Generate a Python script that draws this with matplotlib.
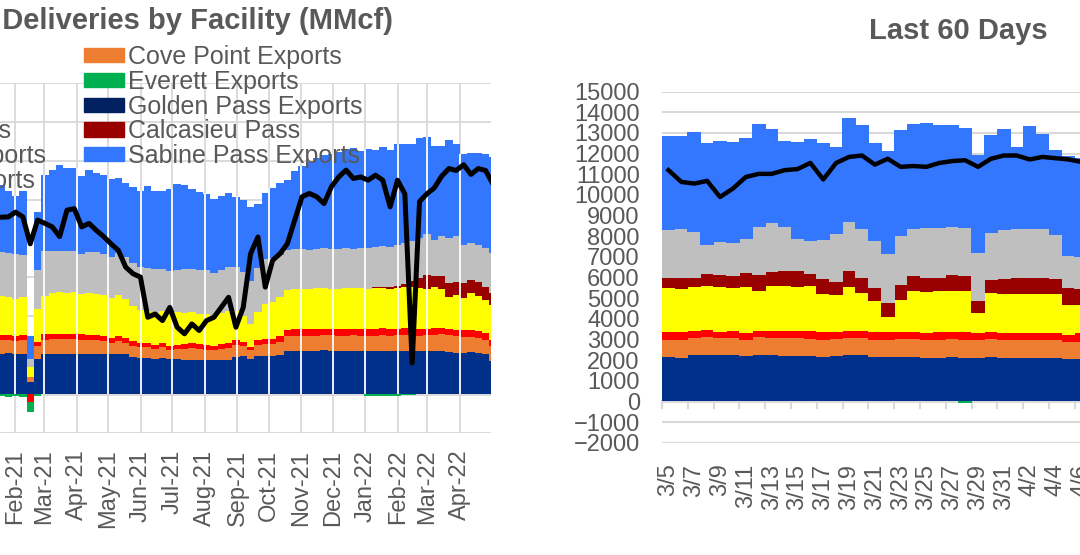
import numpy as np
import pandas as pd
import matplotlib
matplotlib.use("Agg")
import matplotlib.pyplot as plt
import matplotlib.dates as mdates
from matplotlib.patches import Patch
from matplotlib.lines import Line2D

plt.rcParams['font.family'] = ['Liberation Sans', 'DejaVu Sans']

TXT = '#595959'
GRID = '#d9d9d9'

C_FREEPORT = '#00308a'
C_COVE = '#ed7d31'
C_ELBA = '#ff0000'
C_CAMERON = '#ffff00'
C_CALCASIEU = '#990000'
C_CORPUS = '#bfbfbf'
C_SABINE = '#3377ff'
C_EVERETT = '#00b050'
C_GOLDEN = '#002060'
C_LAKE = '#7030a0'

# ---------------- left panel: weekly values, MMcf/d ----------------
week_start = pd.date_range('2021-01-01', periods=70, freq='7D')

freeport = [2100, 2120, 2080, 2100, 2050, 2080, 600, 1800,
            2080, 2080, 2080, 2080, 2080, 2080, 2080, 2080, 2080, 2050, 2080, 2050,
            1900, 1850, 1850, 1800, 1850, 1800, 1800, 1780, 1780, 1780, 1780, 1750, 1780, 1780,
            1900, 1950, 1800, 1950, 1950, 1950, 2000,
            2230, 2240, 2230, 2220, 2230, 2250, 2240, 2230, 2230, 2240, 2220, 2230, 2230, 2240,
            2230, 2230, 2240, 2230, 2230, 2230,
            2230, 2230, 2190, 2130, 2100, 2150, 2100, 2050, 1700]
cove_point = [700, 720, 700, 690, 700, 680, 300, 650,
              720, 740, 750, 740, 730, 720, 700, 700, 650, 600, 650, 600,
              600, 550, 550, 500, 550, 450, 500, 550, 600, 550, 500, 500, 550, 600,
              650, 550, 450, 600, 650, 650, 700,
              750, 770, 770, 770, 780, 780, 780, 780, 780, 780, 790, 780, 780, 790,
              780, 790, 790, 780, 780, 790,
              820, 840, 830, 860, 830, 800, 800, 750, 750]
elba = [260, 260, 250, 260, 250, 260, -400, 220,
        270, 280, 280, 270, 280, 270, 270, 260, 260, 250, 260, 250,
        250, 250, 250, 240, 250, 240, 250, 250, 250, 240, 240, 240, 250, 250,
        240, 200, 150, 250, 250, 250, 280,
        330, 340, 340, 340, 340, 340, 340, 340, 340, 340, 350, 340, 350, 350,
        340, 350, 350, 350, 340, 350,
        340, 340, 330, 330, 350, 330, 330, 330, 330]
cameron = [1950, 1900, 2000, 1950, 1900, 1950, 500, 1700,
           2000, 2100, 2150, 2100, 2150, 2100, 2150, 2100, 2100, 2050, 2100, 2000,
           1800, 1700, 1600, 1650, 1600, 1600, 1650, 1600, 1600, 1550, 1600, 1550, 1600, 1650,
           1500, 1300, 1200, 1400, 1800, 1900, 2000,
           2050, 2050, 2050, 2100, 2100, 2100, 2050, 2050, 2100, 2100, 2100, 2050, 2100, 2100,
           2050, 2100, 2150, 2150, 2100, 2050,
           2110, 1990, 1630, 1760, 1640, 1900, 1800, 1700, 1800]
calcasieu = [0] * 53 + [50, 50, 100, 100, 150, 300, 500, 700,
                        560, 690, 710, 710, 770, 700, 750, 700, 600]
corpus = [2300, 2350, 2300, 2250, 2300, 2200, 400, 2000,
          2300, 2150, 2100, 2150, 2100, 2050, 2100, 2150, 2100, 2100, 2150, 2150,
          2200, 2200, 2250, 2250, 2200, 2250, 2200, 2250, 2200, 2250, 2250, 2200, 2200, 2250,
          2250, 2300, 2200, 2300, 2300, 2250, 2200,
          2050, 2050, 2050, 2000, 2000, 2050, 2050, 2050, 2050, 2000, 2050, 2100, 2050, 2100,
          2050, 2100, 2100, 2050, 2100, 2100,
          1880, 2050, 2360, 2320, 1990, 1900, 1900, 2000, 2100]
sabine = [3300, 3100, 3400, 3200, 3000, 3300, 1200, 3000,
          3900, 4200, 4400, 4300, 4300, 4000, 4200, 4100, 4100, 4000, 3900, 3800,
          3900, 3900, 4200, 4000, 4000, 4200, 4400, 4300, 4100, 4000, 3900, 3800, 3800, 3800,
          3600, 3700, 3800, 3300, 3400, 3600, 3700,
          3600, 4000, 4300, 4500, 4700, 4800, 4900, 5000, 5100, 5200, 5000, 5100, 5000, 5100,
          5000, 5200, 5100, 5000, 5100, 5000,
          4800, 4620, 5020, 4730, 4690, 4600, 4700, 4800, 4900]
everett = ([-100, -150, -120, -150, -100, -150, -500, -100] + [0] * 44
           + [-80, -120, -100, -120, -80, -60, -50] + [0] * 11)
prior_year = [8900, 9000, 9100, 9110, 9360, 9110, 7730, 8950,
              8780, 8600, 8100, 9460, 9540, 8600, 8780, 8420, 8100, 7730, 7390, 6530,
              6190, 6020, 3950, 4120, 3780, 4460, 3440, 3100, 3610, 3270, 3780, 3950, 4460, 4980,
              3440, 4460, 7220, 8080, 5500, 6880, 7220,
              7730, 8940, 10150, 10320, 10150, 9800, 10660, 11170, 11520, 11090, 11170, 11000,
              11260, 11000, 9630, 11000, 10300, 1600, 9900, 10300,
              10600, 11200, 11600, 11500, 11800, 11300, 11600, 11500, 10800]

# ---------------- right panel: last 60 days, daily ----------------
days60 = pd.date_range('2022-03-05', periods=60, freq='D')
d_freeport = [2170, 2120, 2270, 2270, 2270, 2270, 2220, 2270, 2270, 2220, 2220, 2220, 2170, 2220,
              2270, 2270, 2170, 2170, 2170, 2170, 2120, 2120, 2170, 2120, 2120, 2170, 2120, 2120,
              2120, 2120, 2120, 2070, 2070]
d_cove = [820, 870, 820, 870, 820, 820, 730, 870, 820, 870, 870, 820, 820, 820,
          820, 820, 820, 820, 870, 870, 830, 870, 870, 870, 830, 870, 870, 830,
          830, 830, 830, 830, 830]
d_elba = [390, 350, 340, 340, 290, 340, 340, 290, 340, 340, 340, 390, 350, 340,
          340, 340, 350, 350, 300, 340, 340, 350, 340, 350, 340, 300, 300, 340,
          340, 340, 340, 340, 390]
d_cameron = [2090, 2080, 2090, 2090, 2140, 2040, 2230, 1940, 2140, 2140, 2090, 2140, 1840, 1750,
             2090, 1800, 1500, 770, 1550, 1990, 1990, 1990, 1990, 1990, 970, 1890, 1890, 1890,
             1890, 1890, 1890, 1450, 1400]
d_calcasieu = [490, 540, 480, 580, 580, 580, 680, 730, 680, 730, 780, 580, 730, 630,
               780, 730, 630, 680, 730, 680, 720, 670, 730, 720, 580, 630, 730, 820,
               780, 820, 730, 780, 730]
d_corpus = [2340, 2370, 2190, 1410, 1600, 1610, 1650, 2330, 2380, 2130, 1550, 1600, 1890, 2330,
            2370, 2370, 2280, 2330, 2380, 2280, 2380, 2380, 2330, 2330, 2330, 2280, 2380, 2330,
            2370, 2330, 2130, 1550, 1560]
d_sabine = [4550, 4520, 4850, 4960, 4910, 4900, 4900, 5000, 4560, 4180, 4710, 4950, 4710, 4230,
            5050, 5050, 4760, 5000, 5140, 5100, 5100, 5000, 4950, 4860, 4760, 4760, 4900, 3990,
            5000, 4620, 4130, 4880, 4820]
d_everett = [0] * 23 + [-80] + [0] * 9
d_prior = [11200, 10630, 10550, 10680, 9900, 10310, 10870, 11020, 11020, 11200, 11250, 11550,
           10750, 11550, 11840, 11910, 11470, 11750, 11360, 11400, 11360, 11550, 11640, 11680,
           11360, 11750, 11910, 11910, 11720, 11840, 11780, 11720, 11600]

stack_colors = [C_FREEPORT, C_COVE, C_ELBA, C_CAMERON, C_CALCASIEU, C_CORPUS, C_SABINE, C_EVERETT]


def stack_bars(ax, x, series, colors, width, align):
    pos = np.zeros(len(x))
    neg = np.zeros(len(x))
    for vals, c in zip(series, colors):
        v = np.asarray(vals, dtype=float)
        bottom = np.where(v >= 0, pos, neg)
        ax.bar(x, v, width=width, bottom=bottom, color=c, linewidth=0,
               antialiased=False, align=align, zorder=2)
        pos += np.clip(v, 0, None)
        neg += np.clip(v, None, 0)
    return pos


fig = plt.figure(figsize=(10.8, 5.55), dpi=100)
W, H = 1080.0, 555.0

# ---------------- left axes ----------------
ax1 = fig.add_axes([-17.5 / W, 1 - 433 / H, 508.9 / W, 350 / H])
xw = mdates.date2num(week_start)
total = stack_bars(ax1, xw, [freeport, cove_point, elba, cameron, calcasieu, corpus, sabine, everett],
                   stack_colors, 7.05, 'edge')

months = pd.date_range('2021-02-01', '2022-04-01', freq='MS')
idx = ((months - week_start[0]).days // 7).to_numpy()
ax1.vlines(mdates.date2num(months), 0, total[idx], colors='white', linewidth=1.3, zorder=2.5)
ax1.plot(xw + 3.5, prior_year, color='black', linewidth=3.6, solid_joinstyle='round', zorder=3)

ax1.set_xlim(mdates.date2num(pd.Timestamp('2021-01-01')), mdates.date2num(pd.Timestamp('2022-05-01')))
ax1.set_ylim(-2000, 16000)
ax1.set_yticks(np.arange(-2000, 16001, 2000))
ax1.set_xticks(mdates.date2num(months))
ax1.set_xticklabels([m.strftime('%b-%y') for m in months], rotation=90, va='top')
ax1.tick_params(length=0, labelsize=17, labelcolor=TXT, pad=12)
ax1.grid(True, color=GRID, linewidth=1.3)
ax1.set_axisbelow(True)
ax1.axhline(0, color=GRID, linewidth=2, zorder=1.5)
for s in ax1.spines.values():
    s.set_visible(False)

# ---------------- right axes ----------------
ax2 = fig.add_axes([662 / W, 1 - 442.7 / H, 774 / W, 351 / H])
xd = np.arange(len(d_freeport))
stack_bars(ax2, xd, [d_freeport, d_cove, d_elba, d_cameron, d_calcasieu, d_corpus, d_sabine, d_everett],
           stack_colors, 1.06, 'center')
ax2.plot(xd, d_prior, color='black', linewidth=3.2, solid_joinstyle='round', zorder=3)

ax2.set_xlim(-0.5, len(days60) - 0.5)
ax2.set_ylim(-2000, 15000)
ax2.set_yticks(np.arange(-2000, 15001, 1000))
ax2.set_xticks(np.arange(0, len(days60), 2))
ax2.set_xticklabels([f"{d.month}/{d.day}" for d in days60[::2]], rotation=90, va='top')
ax2.tick_params(axis='x', length=0, labelsize=17, labelcolor=TXT, pad=15)
ax2.tick_params(axis='y', length=0, labelsize=17, labelcolor=TXT, pad=16)
ax2.grid(True, axis='y', color=GRID, linewidth=1.5)
ax2.set_axisbelow(True)
for s in ax2.spines.values():
    s.set_visible(False)

sec = ax2.secondary_xaxis(2000 / 17000)
sec.set_xticks(np.arange(-0.5, len(days60), 2))
sec.tick_params(direction='out', length=6, width=1.5, color=GRID, labelbottom=False, labeltop=False)
for name, s in sec.spines.items():
    s.set_color(GRID)
    s.set_linewidth(2)

# ---------------- titles & legend ----------------
fig.text(393 / W, 1 - 21 / H, 'LNG Feedgas Deliveries by Facility (MMcf)', ha='right', va='center',
         fontsize=21, fontweight='bold', color=TXT)
fig.text(958 / W, 1 - 31 / H, 'Last 60 Days', ha='center', va='center',
         fontsize=21, fontweight='bold', color=TXT)

handles = [Line2D([], [], color='black', linewidth=3.6),
           Patch(color=C_CAMERON), Patch(color=C_FREEPORT), Patch(color=C_ELBA),
           Patch(color=C_CORPUS), Patch(color=C_LAKE),
           Patch(color=C_COVE), Patch(color=C_EVERETT), Patch(color=C_GOLDEN),
           Patch(color=C_CALCASIEU), Patch(color=C_SABINE)]
labels = ['Prior Year', 'Cameron Exports', 'Freeport Exports', 'Elba Island Exports',
          'Corpus Christi Exports', 'Lake Charles Exports',
          'Cove Point Exports', 'Everett Exports', 'Golden Pass Exports', 'Calcasieu Pass',
          'Sabine Pass Exports']
fig.legend(handles, labels, ncol=2, loc='upper right', bbox_to_anchor=(362 / W, 1 - 45 / H),
           bbox_transform=fig.transFigure, frameon=False, fontsize=18, labelcolor=TXT,
           handlelength=1.6, handleheight=0.5, handletextpad=0.16, columnspacing=1.48,
           labelspacing=0.03, borderpad=0, borderaxespad=0)

fig.savefig('out.png', dpi=100)
